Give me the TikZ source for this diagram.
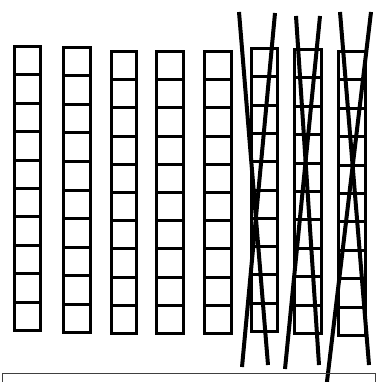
\documentclass[tikz,border=0pt]{standalone}
\begin{document}
\begin{tikzpicture}[x=1pt,y=-1pt,
  cellbox/.style={line width=3pt},
  crossline/.style={line width=4pt},
  framebox/.style={draw=black!75,line width=1pt}]
\useasboundingbox (0,0) rectangle (377,382);
\clip (0,0) rectangle (377,382);
% columns: left, top, right, bottom (outer edges)
\foreach \xa/\ya/\xb/\yb [count=\c] in {13/45/42/332, 62/46/92/334, 110/50/138/335, 155/50/185/335, 203/50/233/335, 250/47/279/333, 293/48/323/335, 337/50/367/337}{
  \pgfmathsetmacro{\L}{\xa+1.5}
  \pgfmathsetmacro{\R}{\xb-1.5}
  \pgfmathsetmacro{\T}{\ya+1.5}
  \pgfmathsetmacro{\B}{\yb-1.5}
  \draw[cellbox] (\L,\T) rectangle (\R,\B);
  \foreach \k in {1,...,9}{
    \pgfmathsetmacro{\Y}{\T+(\B-\T)*\k/10}
    \draw[cellbox] (\L,\Y) -- (\R,\Y);
  }
}
% crossing lines
\coordinate (a1) at (275,13); \coordinate (a2) at (242,367);
\coordinate (b1) at (239,12); \coordinate (b2) at (268,365);
\coordinate (c1) at (320,16); \coordinate (c2) at (285,369);
\coordinate (d1) at (296,16); \coordinate (d2) at (319,365);
\coordinate (e1) at (371,12); \coordinate (e2) at (326,390);
\coordinate (f1) at (340,12); \coordinate (f2) at (369,365);
\draw[crossline] (a1) -- (a2);
\draw[crossline] (b1) -- (b2);
\draw[crossline] (c1) -- (c2);
\draw[crossline] (d1) -- (d2);
\draw[crossline] (e1) -- (e2);
\draw[crossline] (f1) -- (f2);
% bottom frame
\draw[framebox] (2.5,373.5) rectangle (375.5,400);
\end{tikzpicture}
\end{document}
